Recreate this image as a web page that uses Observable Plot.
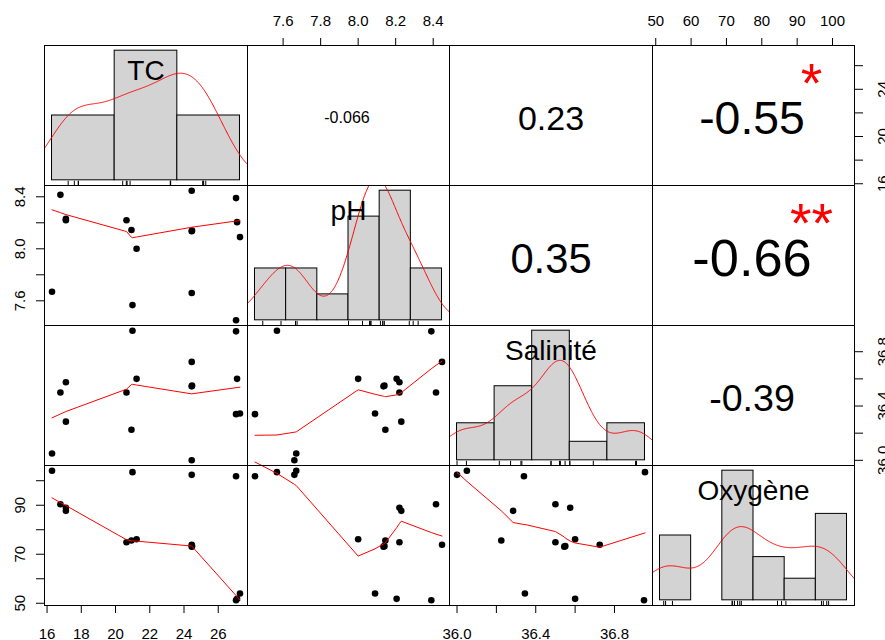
<!DOCTYPE html>
<html>
<head>
<meta charset="utf-8">
<script src="https://cdn.jsdelivr.net/npm/d3@7"></script>
<script src="https://cdn.jsdelivr.net/npm/@observablehq/plot@0.6"></script>
<style>
  body { margin: 0; background: #fff; }
  #chart { position: relative; width: 885px; height: 640px; overflow: hidden;
           font-family: "Liberation Sans", Arial, sans-serif; }
  #chart svg { position: absolute; }
</style>
</head>
<body>
<div id="chart"></div>
<script>
// ---- observations (16 stations) ----
const TC       = [16.29, 16.78, 17.10, 17.10, 20.64, 20.93, 21.23, 20.99, 24.45, 24.45, 24.45, 27.04, 27.10, 27.27, 27.04, 24.47];
const pH       = [7.67, 8.415, 8.22, 8.23, 8.22, 8.145, 8.00, 7.567, 8.447, 8.135, 7.66, 8.39, 8.205, 8.09, 7.45, 8.14];
const salinite = [36.05, 36.50, 36.575, 36.285, 36.50, 36.225, 36.60, 36.955, 36.725, 36.545, 36.00, 36.95, 36.60, 36.345, 36.34, 36.55];
const oxygene  = [104.1, 90.4, 89.0, 87.7, 74.9, 75.6, 76.1, 103.5, 73.9, 73.1, 102.4, 51.2, 51.8, 54.0, 101.8, 73.3];

const variables = ["TC", "pH", "Salinité", "Oxygène"];

// histogram breaks (Freedman–Diaconis, as computed for each variable)
const tcBreaks  = [15, 20, 25, 30];
const phBreaks  = [7.4, 7.6, 7.8, 8.0, 8.2, 8.4, 8.6];
const salBreaks = [36.0, 36.2, 36.4, 36.6, 36.8, 37.0];
const oxyBreaks = [50, 60, 70, 80, 90, 100, 110];

// Pearson correlations for the upper panels and their significance stars
const corrPairs  = [[0, 1], [0, 2], [0, 3], [1, 2], [1, 3], [2, 3]];
const corrValues = [-0.066, 0.23, -0.55, 0.35, -0.66, -0.39];
const corrStars  = ["", "", "*", "", "**", ""];

// axis ticks and their labels
const tcTicks  = [16, 18, 20, 22, 24, 26];
const phTicks  = [7.6, 7.8, 8.0, 8.2, 8.4];
const salTicks = [36.0, 36.2, 36.4, 36.6, 36.8];
const oxyTicks = [50, 60, 70, 80, 90, 100];
const tcBottomLabels  = ["16", "18", "20", "22", "24", "26"];
const tcRightLabels   = ["16", "", "20", "", "24", ""];
const phTopLabels     = ["7.6", "7.8", "8.0", "8.2", "8.4"];
const phLeftLabels    = ["7.6", "", "8.0", "", "8.4"];
const salBottomLabels = ["36.0", "", "36.4", "", "36.8"];
const salRightLabels  = ["36.0", "", "36.4", "", "36.8"];
const oxyTopLabels    = ["50", "60", "70", "80", "90", "100"];
const oxyLeftLabels   = ["50", "", "70", "", "90", ""];

// ---- helpers ----
const columns = [TC, pH, salinite, oxygene];
const breaks = [tcBreaks, phBreaks, salBreaks, oxyBreaks];
const n = TC.length;
const expand = ([a, b]) => { const e = 0.04 * (b - a); return [a - e, b + e]; };
const domains = columns.map(c => expand(d3.extent(c)));

// right-closed histogram counts, lowest break included
function histogram(values, brk) {
  const diddle = 1e-7 * d3.median(d3.pairs(brk, (a, b) => b - a));
  const fb = brk.map((b, k) => k === 0 ? b - diddle : b + diddle);
  const bins = d3.pairs(brk).map(([x1, x2]) => ({x1, x2, count: 0}));
  for (const v of values) {
    for (let k = 0; k < bins.length; k++) {
      if (v > fb[k] && v <= fb[k + 1]) { bins[k].count++; break; }
    }
  }
  for (const b of bins) b.density = b.count / (values.length * (b.x2 - b.x1));
  return bins;
}

// gaussian kernel density with Silverman's rule-of-thumb bandwidth
function density(values) {
  const s = d3.sort(values);
  const sd = d3.deviation(s);
  const iqr = d3.quantileSorted(s, 0.75) - d3.quantileSorted(s, 0.25);
  const bw = 0.9 * Math.min(sd, iqr / 1.34 || sd) * Math.pow(s.length, -0.2);
  const lo = s[0] - 3 * bw, hi = s[s.length - 1] + 3 * bw;
  const k = u => Math.exp(-0.5 * u * u) / Math.sqrt(2 * Math.PI);
  return d3.range(512).map(i => {
    const x = lo + (hi - lo) * i / 511;
    return {x, y: d3.mean(s, v => k((x - v) / bw)) / bw};
  });
}

// locally weighted scatterplot smoother (Cleveland's lowess)
function lowess(xIn, yIn, f = 2 / 3, nsteps = 3) {
  const m = xIn.length;
  const order = d3.range(m).sort((a, b) => xIn[a] - xIn[b] || a - b);
  const x = [NaN, ...order.map(i => xIn[i])];
  const y = [NaN, ...order.map(i => yIn[i])];
  const ys = new Array(m + 1).fill(0);
  const rw = new Array(m + 1).fill(1);
  const res = new Array(m + 1).fill(0);
  const w = new Array(m + 1).fill(0);
  const range = x[m] - x[1];
  const delta = 0.01 * range;
  const ns = Math.max(2, Math.min(m, Math.floor(f * m + 1e-7)));

  function lowest(xs, nleft, nright, userw) {
    const h = Math.max(xs - x[nleft], x[nright] - xs);
    const h9 = 0.999 * h, h1 = 0.001 * h;
    let a = 0, j = nleft;
    while (j <= m) {
      w[j] = 0;
      const r = Math.abs(x[j] - xs);
      if (r <= h9) {
        w[j] = r <= h1 ? 1 : Math.pow(1 - Math.pow(r / h, 3), 3);
        if (userw) w[j] *= rw[j];
        a += w[j];
      } else if (x[j] > xs) break;
      j++;
    }
    const nrt = j - 1;
    if (a <= 0) return null;
    for (j = nleft; j <= nrt; j++) w[j] /= a;
    if (h > 0) {
      a = 0;
      for (j = nleft; j <= nrt; j++) a += w[j] * x[j];
      let b = xs - a, c = 0;
      for (j = nleft; j <= nrt; j++) c += w[j] * (x[j] - a) * (x[j] - a);
      if (Math.sqrt(c) > 0.001 * range) {
        b /= c;
        for (j = nleft; j <= nrt; j++) w[j] *= b * (x[j] - a) + 1;
      }
    }
    let s = 0;
    for (j = nleft; j <= nrt; j++) s += w[j] * y[j];
    return s;
  }

  for (let iter = 1; iter <= nsteps + 1; iter++) {
    let nleft = 1, nright = ns, last = 0, i = 1;
    for (;;) {
      if (nright < m) {
        const d1 = x[i] - x[nleft], d2 = x[nright + 1] - x[i];
        if (d1 > d2) { nleft++; nright++; continue; }
      }
      const v = lowest(x[i], nleft, nright, iter > 1);
      ys[i] = v === null ? y[i] : v;
      if (last < i - 1) {
        const denom = x[i] - x[last];
        for (let j = last + 1; j < i; j++) {
          const alpha = (x[j] - x[last]) / denom;
          ys[j] = alpha * ys[i] + (1 - alpha) * ys[last];
        }
      }
      last = i;
      const cut = x[last] + delta;
      for (i = last + 1; i <= m; i++) {
        if (x[i] > cut) break;
        if (x[i] === x[last]) { ys[i] = ys[last]; last = i; }
      }
      i = Math.max(last + 1, i - 1);
      if (last >= m) break;
    }
    for (let k = 1; k <= m; k++) res[k] = y[k] - ys[k];
    if (iter > nsteps) break;
    const absr = res.slice(1).map(Math.abs);
    const sc = d3.mean(absr);
    const sorted = d3.sort(absr);
    const m1 = Math.floor(m / 2);
    const cmad = m % 2 === 0 ? 3 * (sorted[m1] + sorted[m - m1 - 1]) : 6 * sorted[m1];
    if (cmad < 1e-7 * sc) break;
    const c9 = 0.999 * cmad, c1 = 0.001 * cmad;
    for (let k = 1; k <= m; k++) {
      const r = Math.abs(res[k]);
      rw[k] = r <= c1 ? 1 : r <= c9 ? Math.pow(1 - Math.pow(r / cmad, 2), 2) : 0;
    }
  }
  return d3.range(1, m + 1).map(k => ({x: x[k], y: ys[k]}));
}

// text width in em, used to size the correlation coefficients
const ctx = document.createElement("canvas").getContext("2d");
ctx.font = "100px 'Liberation Sans', Arial";
const emWidth = txt => ctx.measureText(txt).width / 100;
const fmt = v => d3.format(".2")(v).replace("\u2212", "-");

// ---- layout of the 4 x 4 matrix ----
const xEdges = [44.5, 247.5, 449.5, 652.5, 854.5];
const yEdges = [45.5, 185.5, 325.5, 465.5, 605.5];
const M = 60;
const FONT = 15;

const axes = [
  {row: 3, col: 0, side: "bottom", ticks: tcTicks,  labels: tcBottomLabels},
  {row: 3, col: 2, side: "bottom", ticks: salTicks, labels: salBottomLabels},
  {row: 0, col: 1, side: "top",    ticks: phTicks,  labels: phTopLabels},
  {row: 0, col: 3, side: "top",    ticks: oxyTicks, labels: oxyTopLabels},
  {row: 1, col: 0, side: "left",   ticks: phTicks,  labels: phLeftLabels},
  {row: 3, col: 0, side: "left",   ticks: oxyTicks, labels: oxyLeftLabels},
  {row: 0, col: 3, side: "right",  ticks: tcTicks,  labels: tcRightLabels},
  {row: 2, col: 3, side: "right",  ticks: salTicks, labels: salRightLabels}
];

function axisMarks(a) {
  const lab = new Map(a.ticks.map((t, k) => [t, a.labels[k]]));
  const opts = {tickSize: 8, label: null, fontSize: FONT, stroke: "black"};
  if (a.side === "bottom")
    return [Plot.axisX(a.ticks, {...opts, anchor: "bottom", tickPadding: 15, tickFormat: d => lab.get(d)})];
  if (a.side === "top")
    return [Plot.axisX(a.ticks, {...opts, anchor: "top", tickPadding: 12, tickFormat: d => lab.get(d)})];
  const left = a.side === "left";
  return [
    Plot.axisY(a.ticks, {...opts, anchor: a.side, tickFormat: () => ""}),
    Plot.text(a.ticks, {
      y: d => d, text: d => lab.get(d), frameAnchor: a.side,
      dx: left ? -19.5 : 33, rotate: -90, textAnchor: "middle", lineAnchor: "bottom",
      fontSize: FONT, fill: "black"
    })
  ];
}

const chart = document.getElementById("chart");

for (let i = 0; i < 4; i++) {
  for (let j = 0; j < 4; j++) {
    const W = xEdges[j + 1] - xEdges[j];
    const H = yEdges[i + 1] - yEdges[i];
    let xDomain = domains[j], yDomain = domains[i];
    const marks = [];

    if (i > j) {
      // scatter with lowess smoother
      const xs = columns[j], ys = columns[i];
      marks.push(Plot.dot(d3.range(n), {x: k => xs[k], y: k => ys[k], r: 3.3, fill: "black", stroke: null}));
      marks.push(Plot.line(lowess(xs, ys), {x: "x", y: "y", stroke: "red", strokeWidth: 1}));
    } else if (i === j) {
      // histogram, density curve, rug and variable name
      const bins = histogram(columns[i], breaks[i]);
      const maxD = d3.max(bins, b => b.density);
      xDomain = expand(d3.extent(breaks[i]));
      yDomain = expand([0, maxD]);
      const rugTop = yDomain[0] + 0.03 * (yDomain[1] - yDomain[0]);
      marks.push(Plot.rect(bins, {x1: "x1", x2: "x2", y1: 0, y2: "density", fill: "#D3D3D3", stroke: "black", strokeWidth: 1}));
      marks.push(Plot.line(density(columns[i]), {x: "x", y: "y", stroke: "red", strokeWidth: 1, clip: true}));
      marks.push(Plot.ruleX(columns[i], {x: d => d, y1: yDomain[0], y2: rugTop, stroke: "black", strokeWidth: 1}));
      marks.push(Plot.text([variables[i]], {text: d => d, frameAnchor: "top", lineAnchor: "bottom", dy: 34, fontSize: 28, fill: "black"}));
    } else {
      // correlation coefficient, sized by its magnitude, with significance stars
      const k = corrPairs.findIndex(([a, b]) => a === i && b === j);
      const r = corrValues[k];
      const txt = fmt(r);
      const base = 0.8 * W / emWidth(txt);
      const fs = base * (Math.abs(r) + 0.3) / 1.3;
      marks.push(Plot.text([txt], {text: d => d, frameAnchor: "middle", lineAnchor: "middle", fontSize: fs,
        dx: r < 0 ? -1.5 : 0, dy: 2 + 0.04 * fs, fill: "black"}));
      if (corrStars[k]) {
        const sfs = base * 0.78;
        marks.push(Plot.text([corrStars[k]], {text: d => d, frameAnchor: "middle", lineAnchor: "middle",
          dx: 0.3 * W - 2.5, dy: -0.3 * H + 0.2 * sfs, fontSize: sfs, fill: "red"}));
      }
    }

    for (const a of axes) if (a.row === i && a.col === j) marks.push(...axisMarks(a));
    marks.push(Plot.frame({stroke: "black", strokeWidth: 1}));

    const svg = Plot.plot({
      width: W + 2 * M, height: H + 2 * M,
      marginTop: M, marginRight: M, marginBottom: M, marginLeft: M,
      x: {domain: xDomain, axis: null},
      y: {domain: yDomain, axis: null},
      style: {background: "transparent", overflow: "visible", maxWidth: "none",
              fontFamily: "'Liberation Sans', Arial, sans-serif", color: "black"},
      marks
    });
    svg.style.left = (xEdges[j] - 0.5 - M) + "px";
    svg.style.top = (yEdges[i] - 0.5 - M) + "px";
    chart.appendChild(svg);
  }
}
</script>
</body>
</html>
